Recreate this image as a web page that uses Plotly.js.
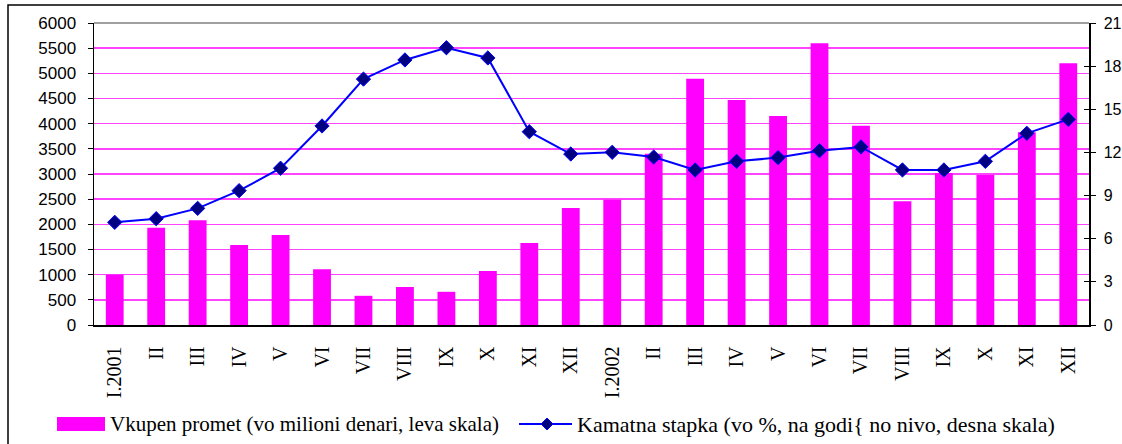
<!DOCTYPE html>
<html>
<head>
<meta charset="utf-8">
<script src="https://cdn.plot.ly/plotly-3.0.1.min.js"></script>
<style>html,body{margin:0;padding:0;background:#fff;}#chart{width:1122px;height:444px;}</style>
</head>
<body>
<div id="chart"></div>
<script>
const categories = ["I.2001","II","III","IV","V","VI","VII","VIII","IX","X","XI","XII",
                    "I.2002","II ","III ","IV ","V ","VI ","VII ","VIII ","IX ","X ","XI ","XII "];
const tickLabels = ["I.2001","II","III","IV","V","VI","VII","VIII","IX","X","XI","XII",
                    "I.2002","II","III","IV","V","VI","VII","VIII","IX","X","XI","XII"];
const turnover = [1000,1930,2080,1590,1790,1110,580,755,660,1075,1630,2325,
                  2490,3400,4890,4470,4150,5600,3960,2460,3020,2980,3830,5200];
const rate = [7.14,7.39,8.11,9.34,10.9,13.84,17.1,18.43,19.28,18.57,13.44,11.89,
              12.01,11.68,10.78,11.38,11.64,12.12,12.38,10.78,10.78,11.38,13.33,14.3];
const barName = "Vkupen promet (vo milioni denari, leva skala)";
const lineName = "Kamatna stapka (vo %, na godi{ no nivo, desna skala)";

// plot area in pixels (for converting legend positions to paper coords)
const PL = 94, PR = 1089, PT = 23, PB = 325;
const px = v => (v - PL) / (PR - PL);
const py = v => (PB - v) / (PB - PT);

const traces = [
  {type:'bar', x:categories, y:turnover, name:barName, marker:{color:'#ff00ff'}, yaxis:'y'},
  {type:'scatter', mode:'lines+markers', x:categories, y:rate, name:lineName, yaxis:'y2',
   line:{color:'#0000ff', width:2},
   marker:{symbol:'diamond', size:11, color:'#000080', line:{color:'#0000ff', width:1}}},
  {type:'scatter', x:[categories[0]], y:[null], yaxis:'y3', showlegend:false, hoverinfo:'skip'}
];

const legY = 424;
const dcx = px(547), dcy = py(legY), ddx = 6/(PR-PL), ddy = 6/(PB-PT);

const layout = {
  width:1122, height:444,
  margin:{l:PL, r:1122-PR, t:PT, b:444-PB, autoexpand:false},
  paper_bgcolor:'#ffffff', plot_bgcolor:'#ffffff',
  bargap:0.57,
  showlegend:false,
  xaxis:{type:'category', range:[-0.5, categories.length-0.5], autorange:false,
         tickmode:'array', tickvals:categories, ticktext:tickLabels,
         tickangle:-90, tickfont:{family:'Liberation Serif', size:20, color:'#000'},
         ticklabelstandoff:12, automargin:false,
         showline:true, linecolor:'#000', linewidth:1.5, ticks:'', showgrid:false,
         zeroline:false},
  yaxis:{range:[0,6000], dtick:500, tick0:0, showline:true, linecolor:'#000', linewidth:1.5,
         ticks:'outside', ticklen:5, tickcolor:'#000', ticklabelstandoff:8, automargin:false,
         tickfont:{family:'Liberation Sans', size:17, color:'#000'},
         showgrid:true, gridcolor:'#ff44ff', gridwidth:1.5, zeroline:false},
  yaxis2:{overlaying:'y', side:'right', range:[0,21], dtick:3, tick0:0, showline:true,
          linecolor:'#000', linewidth:1.5, ticks:'outside', ticklen:5, tickcolor:'#000',
          ticklabelstandoff:5, automargin:false,
          tickfont:{family:'Liberation Sans', size:16, color:'#000'},
          showgrid:false, zeroline:false},
  yaxis3:{overlaying:'y', side:'right', range:[0,21], dtick:3, tick0:0, showline:false,
          ticks:'inside', ticklen:5, tickcolor:'#000', showticklabels:false, automargin:false,
          showgrid:false, zeroline:false},
  shapes:[
    {type:'line', xref:'paper', yref:'paper', x0:0, x1:1, y0:1, y1:1,
     line:{color:'#808080', width:1.5}},
    {type:'rect', xref:'paper', yref:'paper', x0:px(8), x1:px(1140), y0:py(5), y1:py(470),
     line:{color:'#000', width:1.5}, fillcolor:'rgba(0,0,0,0)', layer:'below'},
    // legend symbols
    {type:'rect', xref:'paper', yref:'paper', x0:px(57), x1:px(105), y0:py(431), y1:py(417),
     line:{width:0}, fillcolor:'#ff00ff'},
    {type:'line', xref:'paper', yref:'paper', x0:px(519), x1:px(572), y0:py(legY), y1:py(legY),
     line:{color:'#0000ff', width:2}},
    {type:'path', xref:'paper', yref:'paper',
     path:`M ${dcx} ${dcy+ddy} L ${dcx+ddx} ${dcy} L ${dcx} ${dcy-ddy} L ${dcx-ddx} ${dcy} Z`,
     fillcolor:'#000080', line:{color:'#0000ff', width:1}}
  ],
  annotations:[
    {xref:'paper', yref:'paper', x:px(108), y:py(legY), xanchor:'left', yanchor:'middle',
     text:barName, showarrow:false, font:{family:'Liberation Serif', size:21, color:'#000'}},
    {xref:'paper', yref:'paper', x:px(575), y:py(legY), xanchor:'left', yanchor:'middle',
     text:lineName, showarrow:false, font:{family:'Liberation Serif', size:22, color:'#000'}}
  ]
};

Plotly.newPlot('chart', traces, layout, {staticPlot:true, displayModeBar:false});
</script>
</body>
</html>
